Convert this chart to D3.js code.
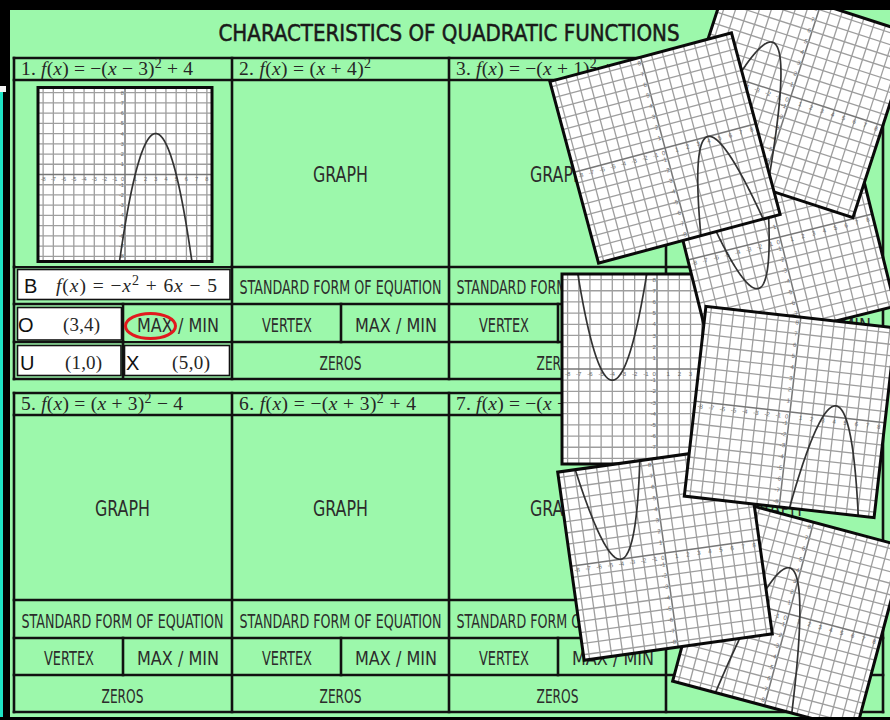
<!DOCTYPE html>
<html><head><meta charset="utf-8">
<script src="https://cdn.jsdelivr.net/npm/d3@7"></script>
<style>body{margin:0;background:#000;} svg{display:block} text{white-space:pre}</style>
</head><body>
<svg id="c" width="890" height="720"></svg>
<script>
// ---------------- DATA ----------------
const title = "CHARACTERISTICS OF QUADRATIC FUNCTIONS";
const headersTop = ["1. f(x) = −(x − 3)² + 4", "2. f(x) = (x + 4)²", "3. f(x) = −(x + 1)² + 4", ""];
const headersBottom = ["5. f(x) = (x + 3)² − 4", "6. f(x) = −(x + 3)² + 4", "7. f(x) = −(x − 4)² + 1", ""];
const cellLabels = ["GRAPH", "STANDARD FORM OF EQUATION", "VERTEX", "MAX / MIN", "ZEROS"];
const answerLetters = ["B", "O", "U", "X"];
const answerStandard = "f(x) = −x² + 6x − 5";
const answerVertex = "(3,4)";
const answerZeros = ["(1,0)", "(5,0)"];
// parabola coefficients [a, h, k] for f(x) = a(x - h)^2 + k
const worksheetGraph = [-1, 3, 4];
const cardFunctions = [[1, -4, -1], [1, -3, -4], [-1, -3, 4], [-1, 4, 0], [-1, -1, 4], [1, -4, 0], [-1, 4, 1]];
const tickValues = d3.range(-8, 9);

// ---------------- LAYOUT ----------------
const GREEN = "#9cf8ab";
const HAND = "'Liberation Sans Narrow','DejaVu Sans Condensed','Arial Narrow',sans-serif";
const SERIF = "'Liberation Serif','DejaVu Serif',serif";
const SANS = "'Liberation Sans','DejaVu Sans',sans-serif";
const colX = [14, 232, 449, 666, 883];
const rowsTop = [58, 80, 267, 304, 342, 379];
const rowsBottom = [393, 415, 600, 638, 675, 712];
const split = 109;
const cardLayout = [
  {cx: 657, cy: 369, s: 190, r: 0},
  {cx: 780, cy: 237, s: 190, r: -14},
  {cx: 791, cy: 96, s: 193, r: 18},
  {cx: 665, cy: 148, s: 188, r: -15},
  {cx: 789, cy: 614, s: 190, r: 15},
  {cx: 665, cy: 553, s: 190, r: -8},
  {cx: 790, cy: 412, s: 191, r: 6.5}
];

const svg = d3.select("#c");
const defs = svg.append("defs");

// background
svg.append("rect").attr("width", 890).attr("height", 720).attr("fill", "#000");
svg.append("rect").attr("x", 10).attr("y", 10).attr("width", 880).attr("height", 707).attr("fill", GREEN);
svg.append("rect").attr("x", 0).attr("y", 92).attr("width", 3).attr("height", 628).attr("fill", "#1ee3c4");
svg.append("rect").attr("x", 0).attr("y", 86).attr("width", 6).attr("height", 6).attr("fill", "#f4f4f4");

// title
svg.append("text").attr("x", 449).attr("y", 41).attr("text-anchor", "middle")
  .attr("font-family", HAND).attr("font-size", 23.5).attr("fill", "#1a1a1a")
  .attr("stroke", "#1a1a1a").attr("stroke-width", 0.5)
  .attr("textLength", 461).attr("lengthAdjust", "spacingAndGlyphs").text(title);

function mathText(parent, str, x, y, fs, width, anchor, color) {
  const t = parent.append("text").attr("x", x).attr("y", y)
    .attr("font-family", SERIF).attr("font-size", fs).attr("fill", color || "#262626");
  let raised = false;
  (str.match(/[a-z]+|²|[^a-z²]+/g) || []).forEach(r => {
    if (r === "²") {
      t.append("tspan").text("2").attr("dy", -fs * 0.36).attr("font-size", fs * 0.72);
      raised = true;
      return;
    }
    const ts = t.append("tspan").text(r);
    if (raised) { ts.attr("dy", fs * 0.36); raised = false; }
    if (/[a-z]/.test(r)) ts.attr("font-style", "italic");
  });
  if (width) t.attr("textLength", width).attr("lengthAdjust", "spacing");
  if (anchor) t.attr("text-anchor", anchor);
  return t;
}
function label(parent, txt, cx, baseline, width, capH) {
  parent.append("text").attr("x", cx).attr("y", baseline).attr("text-anchor", "middle")
    .attr("font-family", HAND).attr("font-size", capH / 0.72).attr("fill", "#2c2c2c")
    .attr("textLength", width).attr("lengthAdjust", "spacingAndGlyphs").text(txt);
}

const headerWidths = [[172, 132, 172, 0], [162, 177, 172, 0]];
function drawTable(rows, headers, hw) {
  const g = svg.append("g");
  const x0 = colX[0], x1 = colX[4];
  const lines = [];
  rows.forEach(y => lines.push([x0, y, x1, y]));
  colX.forEach(x => lines.push([x, rows[0], x, rows[5]]));
  colX.slice(0, 4).forEach(x => lines.push([x + split, rows[3], x + split, rows[4]]));
  g.selectAll("line").data(lines).join("line")
    .attr("x1", d => d[0]).attr("y1", d => d[1]).attr("x2", d => d[2]).attr("y2", d => d[3])
    .attr("stroke", "#111").attr("stroke-width", 2.6).attr("stroke-linecap", "square");
  colX.slice(0, 4).forEach((x, i) => {
    if (headers[i]) mathText(g, headers[i], x + 7, rows[0] + 17, 19.5, hw[i]);
    const mid = x + 108.5;
    label(g, cellLabels[0], mid, (rows[1] + rows[2]) / 2 + 8.5, 55, 15.5);
    label(g, cellLabels[1], mid, (rows[2] + rows[3]) / 2 + 8.5, 202, 14.5);
    label(g, cellLabels[2], x + 55, (rows[3] + rows[4]) / 2 + 8.5, 50, 13.5);
    label(g, cellLabels[3], x + split + 55, (rows[3] + rows[4]) / 2 + 8.5, 82, 13.5);
    label(g, cellLabels[4], mid, (rows[4] + rows[5]) / 2 + 9.5, 42, 14.5);
  });
  return g;
}
drawTable(rowsTop, headersTop, headerWidths[0]);
drawTable(rowsBottom, headersBottom, headerWidths[1]);

// ---------------- worksheet answers (column 1, top) ----------------
const ans = svg.append("g");
ans.append("rect").attr("x", 16).attr("y", 82).attr("width", 214).attr("height", 184).attr("fill", GREEN);
ans.append("rect").attr("x", 16).attr("y", 269).attr("width", 214).attr("height", 33).attr("fill", GREEN);
ans.append("rect").attr("x", 16).attr("y", 306).attr("width", 106).attr("height", 35).attr("fill", GREEN);
ans.append("rect").attr("x", 125).attr("y", 306).attr("width", 105).attr("height", 35).attr("fill", GREEN);
ans.append("rect").attr("x", 16).attr("y", 344).attr("width", 214).attr("height", 33).attr("fill", GREEN);
ans.append("line").attr("x1", 123).attr("x2", 123).attr("y1", 342).attr("y2", 379).attr("stroke", "#111").attr("stroke-width", 2.6);
const boxes = [[17.5, 269.5, 212.5, 30], [17.5, 307.5, 104, 32.5], [17.5, 345.5, 103.5, 30], [124.5, 345.5, 105, 30]];
ans.selectAll("rect.box").data(boxes).join("rect").attr("class", "box")
  .attr("x", d => d[0]).attr("y", d => d[1]).attr("width", d => d[2]).attr("height", d => d[3])
  .attr("fill", "#fff").attr("stroke", "#111").attr("stroke-width", 1.6);
const letterPos = [[24, 293], [18, 332], [20, 370], [126, 370]];
answerLetters.forEach((L, i) => ans.append("text").attr("x", letterPos[i][0]).attr("y", letterPos[i][1])
  .attr("font-family", SANS).attr("font-size", 20).attr("fill", "#111").text(L));
mathText(ans, answerStandard, 56, 292, 19.5, 161);
mathText(ans, answerVertex, 63, 331, 19, 37);
mathText(ans, answerZeros[0], 65, 369, 19, 37);
mathText(ans, answerZeros[1], 172, 369, 19, 38);
label(ans, cellLabels[3], 178, 332, 82, 13.5);
ans.append("ellipse").attr("cx", 150.5).attr("cy", 326).attr("rx", 25).attr("ry", 12.5)
  .attr("fill", "none").attr("stroke", "#e1191e").attr("stroke-width", 3);

// ---------------- graph cards ----------------
let clipId = 0;
function drawCard(L, fn) {
  const g = svg.append("g").attr("transform", `translate(${L.cx},${L.cy}) rotate(${L.r})`);
  const h = L.s / 2;
  const x = d3.scaleLinear().domain([-8.5, 8.5]).range([-h, h]);
  const y = d3.scaleLinear().domain([-8.5, 8.5]).range([h, -h]);
  g.append("rect").attr("x", -h).attr("y", -h).attr("width", L.s).attr("height", L.s).attr("fill", "#fff");
  const grid = g.append("g");
  grid.selectAll("line.v").data(tickValues).join("line").attr("class", "v")
    .attr("x1", d => x(d)).attr("x2", d => x(d)).attr("y1", -h).attr("y2", h)
    .attr("stroke", d => d === 0 ? "#777" : "#9e9e9e").attr("stroke-width", d => d === 0 ? 1.5 : 1.3);
  grid.selectAll("line.h").data(tickValues).join("line").attr("class", "h")
    .attr("y1", d => y(d)).attr("y2", d => y(d)).attr("x1", -h).attr("x2", h)
    .attr("stroke", d => d === 0 ? "#777" : "#9e9e9e").attr("stroke-width", d => d === 0 ? 1.5 : 1.3);
  const fs = L.s * 0.032;
  g.append("g").selectAll("text").data(tickValues).join("text")
    .attr("x", d => d === 0 ? x(0) - 1 : x(d)).attr("y", y(0) + fs + 0.6)
    .attr("text-anchor", d => d === 0 ? "end" : "middle")
    .attr("font-family", SANS).attr("font-size", fs).attr("fill", "#6a6a6a").text(d => d);
  g.append("g").selectAll("text").data(tickValues.filter(d => d !== 0)).join("text")
    .attr("x", x(0) - 1.2).attr("y", d => y(d) + fs * 0.35).attr("text-anchor", "end")
    .attr("font-family", SANS).attr("font-size", fs).attr("fill", "#6a6a6a").text(d => d);
  const id = "clip" + (clipId++);
  defs.append("clipPath").attr("id", id).append("rect")
    .attr("x", -h).attr("y", -h).attr("width", L.s).attr("height", L.s);
  const pts = d3.range(-8.5, 8.5001, 0.025).map(v => [v, fn[0] * (v - fn[1]) ** 2 + fn[2]])
    .filter(p => p[1] > -12 && p[1] < 12);
  const line = d3.line().x(d => x(d[0])).y(d => y(d[1]));
  g.append("path").attr("d", line(pts)).attr("clip-path", `url(#${id})`)
    .attr("fill", "none").attr("stroke", "#333").attr("stroke-width", 1.7);
  g.append("rect").attr("x", -h).attr("y", -h).attr("width", L.s).attr("height", L.s)
    .attr("fill", "none").attr("stroke", "#0a0a0a").attr("stroke-width", 3);
}
drawCard({cx: 125, cy: 174.5, s: 174, r: 0}, worksheetGraph);
cardLayout.forEach((L, i) => drawCard(L, cardFunctions[i]));

// frame
svg.append("rect").attr("x", 0).attr("y", 0).attr("width", 890).attr("height", 10).attr("fill", "#000");
svg.append("rect").attr("x", 0).attr("y", 717).attr("width", 890).attr("height", 3).attr("fill", "#000");
</script>
</body></html>
